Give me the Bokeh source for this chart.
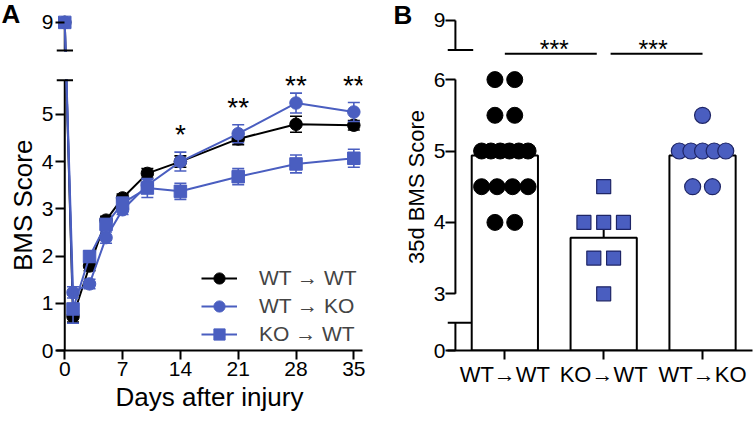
import numpy as np
from bokeh.plotting import figure
from bokeh.models import (ColumnDataSource, FixedTicker, Legend, LegendItem, Range1d)
from bokeh.layouts import row
from bokeh.embed import file_html
from bokeh.resources import INLINE
from bokeh.core.properties import value

# ---------------- data: panel A (BMS time course) ----------------
days = [0, 1, 3, 5, 7, 10, 14, 21, 28, 35]
wt_wt_mean = [9.0, 0.72, 1.79, 2.76, 3.23, 3.75, 4.00, 4.48, 4.79, 4.77]
wt_wt_sem = [0.0, 0.12, 0.10, 0.08, 0.08, 0.10, 0.12, 0.12, 0.17, 0.10]
wt_ko_mean = [9.0, 1.23, 1.41, 2.39, 2.98, 3.50, 4.00, 4.59, 5.24, 5.05]
wt_ko_sem = [0.0, 0.12, 0.10, 0.12, 0.10, 0.12, 0.20, 0.19, 0.21, 0.20]
ko_wt_mean = [9.0, 0.88, 1.99, 2.67, 3.12, 3.44, 3.37, 3.68, 3.95, 4.07]
ko_wt_sem = [0.0, 0.30, 0.12, 0.12, 0.12, 0.20, 0.17, 0.17, 0.19, 0.19]
series_names = ["WT \u2192 WT", "WT \u2192 KO", "KO \u2192 WT"]
sig_days = [14, 21, 28, 35]
sig_marks = ["*", "**", "**", "**"]
x_ticks_a = [0, 7, 14, 21, 28, 35]
y_ticks_a = [0, 1, 2, 3, 4, 5, 9]

# ---------------- data: panel B (35 d BMS score) ----------------
groups_b = ["WT\u2192WT", "KO\u2192WT", "WT\u2192KO"]
wtwt_35 = [6, 6, 5.5, 5.5, 5, 5, 5, 5, 5, 5, 4.5, 4.5, 4.5, 4.5, 4, 4]
kowt_35 = [4.5, 4, 4, 4, 3.5, 3.5, 3]
wtko_35 = [5.5, 5, 5, 5, 5, 5, 4.5, 4.5]
sem_35 = [0.15, 0.21, 0.12]
y_ticks_b = [0, 3, 4, 5, 6, 9]
sig_pairs_b = [(0, 1), (1, 2)]
sig_text_b = ["***", "***"]

BLUE = "#4A5EC0"
DARK = "#1E2566"
FONT = "Liberation Sans"
H = 422
A_BOTTOM = 70   # bottom border of panel A (x axis at y = 352)
B_BOTTOM = 72   # bottom border of panel B (x axis at y = 350)

# ---------------- broken-axis helpers ----------------
A_LOW_TOP = 5.72      # top of lower axis segment
A_UP_BOT = 6.35       # bottom of upper axis segment (display units)
A_NINE = 6.947        # display position of 9
A_PX = 47.5           # pixels per unit, panel A


def tA(v):
    v = np.asarray(v, dtype=float)
    return np.where(v > 7, v - 9 + A_NINE, v)


B_LOW_TOP = 0.388
B_THREE = 0.794
B_UP_BOT = 4.21
B_NINE = 4.622
B_PX = 71.4


def tB(v):
    v = np.asarray(v, dtype=float)
    return np.where(v > 7, v - 9 + B_NINE, np.where(v >= 2.5, v - 3 + B_THREE, v))


def overrides(ticks_disp, ticks_val):
    d = {}
    for t, v in zip(ticks_disp, ticks_val):
        t = float(t)
        d[t] = str(v)
        d[str(int(t)) if t.is_integer() else repr(t)] = str(v)
    return d


def style_fig(p):
    p.outline_line_color = None
    p.xgrid.visible = False
    p.ygrid.visible = False
    p.background_fill_color = "white"
    p.border_fill_color = "white"


def style_axis(ax, font_size="21px"):
    ax.major_tick_line_width = 2
    ax.minor_tick_line_color = None
    ax.major_label_text_font_size = font_size
    ax.major_label_text_font = FONT
    ax.major_label_text_color = "black"


def strip(width, bottom, texts):
    # a text-only strip whose frame spans from the top of the page down to the x axis;
    # its y range is in page pixels (0 at the top)
    fb = H - bottom
    s = figure(width=width, height=H, output_backend="svg", toolbar_location=None,
               title=None, x_range=Range1d(0, width), y_range=Range1d(fb, 0),
               min_border_left=0, min_border_right=0, min_border_top=0,
               min_border_bottom=bottom, x_axis_location=None, y_axis_location=None)
    s.outline_line_color = None
    s.xgrid.visible = False
    s.ygrid.visible = False
    for (tx, ty, txt, ang, size, style) in texts:
        s.text(x=[tx], y=[ty], text=[txt], angle=ang,
               text_align=value("center" if ang else "left"),
               text_baseline=value("middle"),
               text_font=value(FONT), text_font_size=value(size),
               text_font_style=value(style), text_color=value("black"))
    return s


# ======================= label strips (panel letters and y titles) =======================
stripA = strip(38, A_BOTTOM, [(1, 13.5, "A", 0, "26px", "bold"),
                              (22, 206, "BMS Score", np.pi / 2, "26px", "normal")])
stripB = strip(47, B_BOTTOM, [(10, 14, "B", 0, "26px", "bold"),
                              (33, 186.5, "35d BMS Score", np.pi / 2, "22px", "normal")])

# ======================= PANEL A =======================
pA = figure(width=345, height=H, output_backend="svg", toolbar_location=None,
            x_range=Range1d(-1, 36.05), y_range=Range1d(0, (H - A_BOTTOM) / A_PX),
            min_border_left=17, min_border_right=21, min_border_top=0,
            min_border_bottom=A_BOTTOM)
style_fig(pA)

ya = pA.yaxis[0]
ta_ticks = [float(t) for t in tA(y_ticks_a)]
ya.ticker = FixedTicker(ticks=ta_ticks)
ya.major_label_overrides = overrides(ta_ticks, y_ticks_a)
ya.axis_line_color = None
ya.major_tick_out = 1
ya.major_tick_in = 8
ya.major_label_standoff = 2
style_axis(ya)

xa = pA.xaxis[0]
xa.ticker = FixedTicker(ticks=x_ticks_a)
xa.axis_line_width = 2
xa.major_tick_out = 9
xa.major_tick_in = 0
xa.major_label_standoff = 2
style_axis(xa)
xa.axis_label = "Days after injury"
xa.axis_label_text_font = FONT
xa.axis_label_text_font_size = "26px"
xa.axis_label_text_font_style = "normal"
xa.axis_label_text_color = "black"
xa.axis_label_standoff = 3

# broken y axis (drawn first so data sit on top)
pA.segment(x0=[0, 0], x1=[0, 0], y0=[0, A_UP_BOT], y1=[A_LOW_TOP, A_NINE],
           line_color="black", line_width=2)

series = [
    (wt_wt_mean, wt_wt_sem, "black", "circle"),
    (wt_ko_mean, wt_ko_sem, BLUE, "circle"),
    (ko_wt_mean, ko_wt_sem, BLUE, "square"),
]
legend_items = []
for (m, s, col, mk), name in zip(series, series_names):
    m = np.array(m)
    s = np.array(s)
    src = ColumnDataSource(dict(x=days, y=tA(m), lo=tA(m - s), hi=tA(m + s)))
    pA.segment(x0="x", x1="x", y0="lo", y1="hi", source=src, line_color=col, line_width=1.6)
    pA.scatter(x="x", y="hi", source=src, marker="dash", size=12, line_color=col, line_width=1.6)
    pA.scatter(x="x", y="lo", source=src, marker="dash", size=12, line_color=col, line_width=1.6)
    lr = pA.line(x="x", y="y", source=src, line_color=col, line_width=2)
    sr = pA.scatter(x="x", y="y", source=src, marker=mk, size=12.5,
                    fill_color=col, line_color=col)
    legend_items.append(LegendItem(label=name, renderers=[lr, sr]))

# mask the axis gap, then break marks
pA.quad(left=[-1], right=[1.2], bottom=[A_LOW_TOP + 0.03], top=[A_UP_BOT - 0.03],
        fill_color="white", line_color=None)
pA.segment(x0=[-1, -1], x1=[1, 1], y0=[A_LOW_TOP, A_UP_BOT], y1=[A_LOW_TOP, A_UP_BOT],
           line_color="black", line_width=2)

# significance stars (placed above the highest error bar of each day)
uppers = np.max(np.vstack([tA(np.array(a) + np.array(b)) for a, b, _, _ in series]), axis=0)
star_center = [min(uppers[days.index(d)] + 0.47, A_LOW_TOP) for d in sig_days]
star_anchor = [c - 5 / A_PX for c in star_center]
pA.text(x=sig_days, y=star_anchor, text=sig_marks, text_align="center",
        text_baseline="middle", text_font=value(FONT), text_font_size=value("28px"),
        text_color="black")

legend = Legend(items=legend_items, location=(145, 2), glyph_width=36, glyph_height=28,
                label_height=28, spacing=0, label_standoff=22, padding=0, margin=0,
                border_line_color=None, background_fill_alpha=0,
                label_text_font_size="21px", label_text_font=FONT)
pA.add_layout(legend)

# ======================= PANEL B =======================
pB = figure(width=323, height=H, output_backend="svg", toolbar_location=None,
            x_range=Range1d(-0.58, -0.58 + 307 / 99.5),
            y_range=Range1d(0, (H - B_BOTTOM) / B_PX),
            min_border_left=15, min_border_right=1, min_border_top=0,
            min_border_bottom=B_BOTTOM)
style_fig(pB)

yb = pB.yaxis[0]
tb_ticks = [float(t) for t in tB(y_ticks_b)]
yb.ticker = FixedTicker(ticks=tb_ticks)
yb.major_label_overrides = overrides(tb_ticks, y_ticks_b)
yb.axis_line_color = None
yb.major_tick_out = 2
yb.major_tick_in = 8
yb.major_label_standoff = 0
style_axis(yb)

xb = pB.xaxis[0]
xb.ticker = FixedTicker(ticks=[0, 1, 2])
xb.major_label_overrides = {0: groups_b[0], 1: groups_b[1], 2: groups_b[2],
                            "0": groups_b[0], "1": groups_b[1], "2": groups_b[2]}
xb.axis_line_width = 2
xb.major_tick_out = 9
xb.major_tick_in = 0
xb.major_label_standoff = 2
style_axis(xb, "22px")

# broken y axis
pB.segment(x0=[-0.5] * 3, x1=[-0.5] * 3, y0=[0, B_THREE, B_UP_BOT],
           y1=[B_LOW_TOP, B_THREE + 3, B_NINE], line_color="black", line_width=2)
pB.segment(x0=[-0.58, -0.58], x1=[-0.32, -0.32], y0=[B_LOW_TOP, B_UP_BOT],
           y1=[B_LOW_TOP, B_UP_BOT], line_color="black", line_width=2)

groups_vals = [wtwt_35, kowt_35, wtko_35]
means = [float(np.mean(g)) for g in groups_vals]
pB.vbar(x=[0, 1, 2], bottom=0, top=tB(means), width=0.67, fill_color="white",
        line_color="black", line_width=2)
top_err = tB(np.array(means) + np.array(sem_35))
pB.segment(x0=[0, 1, 2], x1=[0, 1, 2], y0=tB(means), y1=top_err, line_color="black",
           line_width=2)
pB.scatter(x=[0, 1, 2], y=top_err, marker="dash", size=14, line_color="black", line_width=2)


def row_offsets(vals):
    vals = np.asarray(vals, dtype=float)
    xs = np.zeros(len(vals))
    for v in np.unique(vals):
        idx = np.where(vals == v)[0]
        n = len(idx)
        step = min(0.2, 0.47 / (n - 1)) if n > 1 else 0.0
        xs[idx] = (np.arange(n) - (n - 1) / 2) * step
    return xs


pB.scatter(x=0 + row_offsets(wtwt_35), y=tB(wtwt_35), marker="circle", size=16,
           fill_color="black", line_color="black")
pB.scatter(x=1 + row_offsets(kowt_35), y=tB(kowt_35), marker="square", size=14,
           fill_color=BLUE, line_color=DARK, line_width=1.2)
pB.scatter(x=2 + row_offsets(wtko_35), y=tB(wtko_35), marker="circle", size=16,
           fill_color=BLUE, line_color=DARK, line_width=1.2)

# significance brackets
SIG_T = (350 - 53.3) / B_PX
STAR_T = (350 - 43.3) / B_PX - 5 / B_PX
pB.segment(x0=[a + (0.07 if a > 0 else 0) for a, b in sig_pairs_b],
           x1=[b - (0.07 if b < 2 else 0) for a, b in sig_pairs_b],
           y0=[SIG_T] * 2, y1=[SIG_T] * 2, line_color="black", line_width=2)
pB.text(x=[(a + b) / 2 for a, b in sig_pairs_b], y=[STAR_T] * 2, text=sig_text_b,
        text_align="center", text_baseline="middle", text_font=value(FONT),
        text_font_size=value("25px"), text_color="black")

layout = row(stripA, pA, stripB, pB)
open("out.html", "w").write(file_html(layout, INLINE))
